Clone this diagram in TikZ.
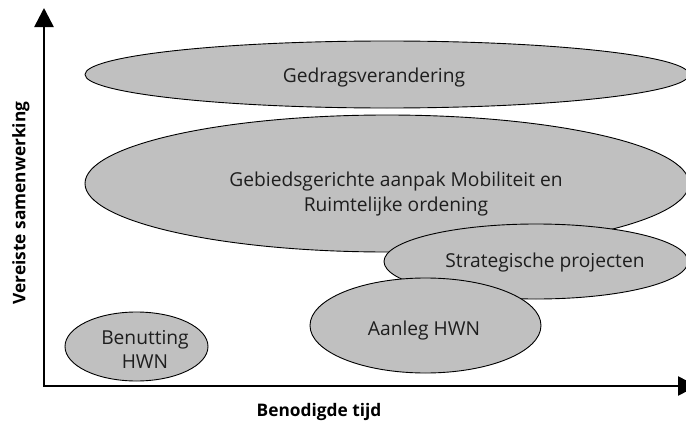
\documentclass[tikz,border=0pt]{standalone}
\usepackage{fontspec}
\setmainfont{Open Sans}
\usetikzlibrary{shapes.geometric,arrows.meta}
\definecolor{blobgray}{RGB}{192,192,192}
\definecolor{txtgray}{RGB}{30,30,30}
\begin{document}
\begin{tikzpicture}[x=1pt,y=-1pt,
  blob/.style={ellipse,draw=black,line width=0.9pt,fill=blobgray,inner sep=0pt},
  lbl/.style={font=\fontsize{19.2}{24.5}\selectfont,align=center,text=txtgray},
  axisline/.style={line width=2.6pt,{Triangle[length=19pt,width=19pt]}-{Triangle[length=19pt,width=19pt]}},
  axlbl/.style={font=\bfseries\fontsize{17.3}{20}\selectfont}]
\useasboundingbox (0,0) rectangle (686,423);
% ellipses
\node[blob,minimum width=604pt,minimum height=67pt] (gedr) at (387,74.5) {};
\node[blob,minimum width=604pt,minimum height=137pt] (gebied) at (387,183.5) {};
\node[blob,minimum width=304pt,minimum height=75pt] (strat) at (536,261.5) {};
\node[blob,minimum width=231pt,minimum height=95pt] (aanleg) at (425.5,325.5) {};
\node[blob,minimum width=143pt,minimum height=69pt] (benut) at (136.5,346.5) {};
% labels
\node[lbl] (tgedr) at (374,78) {Gedragsverandering};
\node[lbl] (tgebied) at (396,194) {Gebiedsgerichte aanpak Mobiliteit en\\Ruimtelijke ordening};
\node[lbl] (tstrat) at (545,263) {Strategische projecten};
\node[lbl] (taanleg) at (424,331) {Aanleg HWN};
\node[lbl] (tbenut) at (145,349.5) {Benutting\\HWN};
% axes
\coordinate (ytip) at (44,8);
\coordinate (orig) at (44,386);
\coordinate (xtip) at (697,386);
\draw[axisline] (ytip) -- (orig) -- (xtip);
\node[axlbl,rotate=90] (ylab) at (21,203) {Vereiste samenwerking};
\node[axlbl] (xlab) at (319,412) {Benodigde tijd};
\end{tikzpicture}
\end{document}
